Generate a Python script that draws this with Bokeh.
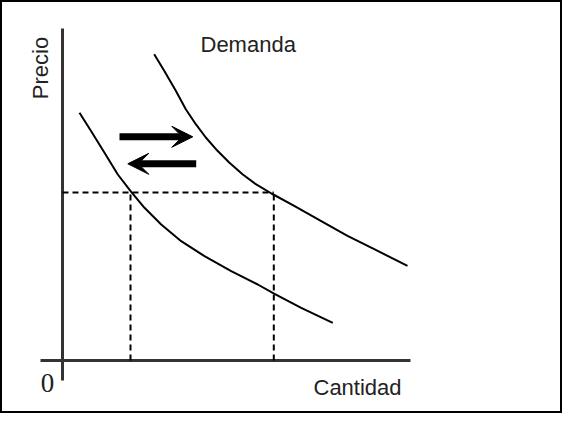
from bokeh.plotting import figure
from bokeh.models import Range1d, Arrow, VeeHead, Label
from bokeh.embed import file_html
from bokeh.resources import INLINE

# Data (arbitrary units: quantity on x, price on y)
demand_low_q = [1.7, 2.87, 4.2, 5.53, 6.87, 8.2, 9.87, 11.87, 14.2, 16.87,
                19.53, 21.2, 23.87, 27.03]
demand_low_p = [24.77, 22.93, 20.77, 18.6, 16.87, 15.27, 13.6, 11.93, 10.43,
                8.93, 7.6, 6.67, 5.27, 3.77]
demand_high_q = [9.17, 10.17, 11.33, 12.33, 13.33, 14.33, 15.5, 16.67, 18.0,
                 19.33, 20.9, 23.17, 25.83, 28.5, 31.17, 34.5]
demand_high_p = [30.63, 28.97, 26.97, 25.13, 23.63, 22.3, 20.97, 19.8, 18.63,
                 17.63, 16.7, 15.47, 13.97, 12.47, 11.13, 9.47]

price_level = 16.8
q_low = 6.8
q_high = 21.13

x_axis_ext = [-2.2, 34.8]
y_axis_ext = [-2.0, 33.2]

arrow_right = dict(x_start=5.7, x_end=13.03, y=22.37)
arrow_left = dict(x_start=13.37, x_end=6.53, y=19.67)

p = figure(width=562, height=413, output_backend="svg", toolbar_location=None,
           x_range=Range1d(-6.2, 50.0), y_range=Range1d(-5.3, 36.0),
           min_border=0)
p.axis.visible = False
p.grid.visible = False
p.outline_line_color = "black"
p.outline_line_width = 3
p.background_fill_color = "white"
p.border_fill_color = "white"

# axes
p.line(x=x_axis_ext, y=[0, 0], line_color="#333333", line_width=3)
p.line(x=[0, 0], y=y_axis_ext, line_color="#333333", line_width=3)

# dashed guides
p.line(x=[0, q_high], y=[price_level, price_level], line_color="black",
       line_width=2, line_dash="6 4")
p.line(x=[q_low, q_low], y=[0, price_level], line_color="black",
       line_width=2, line_dash="6 4")
p.line(x=[q_high, q_high], y=[0, price_level], line_color="black",
       line_width=2, line_dash="6 4")

# demand curves
p.line(x=demand_low_q, y=demand_low_p, line_color="black", line_width=2,
       line_join="round")
p.line(x=demand_high_q, y=demand_high_p, line_color="black", line_width=2,
       line_join="round")

# arrows
for a in (arrow_right, arrow_left):
    p.add_layout(Arrow(end=VeeHead(size=21, fill_color="black", line_color="black"),
                       x_start=a["x_start"], y_start=a["y"],
                       x_end=a["x_end"], y_end=a["y"],
                       line_color="black", line_width=7))

# texts
font = "Liberation Sans"
p.add_layout(Label(x=-2.2, y=29.25, text="Precio", angle=90, angle_units="deg",
                   text_font=font, text_font_size="22px", text_color="#222222",
                   text_align="center", text_baseline="middle"))
p.add_layout(Label(x=13.8, y=31.6, text="Demanda", text_font=font,
                   text_font_size="22px", text_color="#222222",
                   text_align="left", text_baseline="middle"))
p.add_layout(Label(x=25.1, y=-2.7, text="Cantidad", text_font=font,
                   text_font_size="22px", text_color="#222222",
                   text_align="left", text_baseline="middle"))
p.add_layout(Label(x=-1.5, y=-2.2, text="0", text_font="Liberation Serif",
                   text_font_size="27px", text_color="#222222",
                   text_align="center", text_baseline="middle"))

open("out.html", "w").write(file_html(p, INLINE))
